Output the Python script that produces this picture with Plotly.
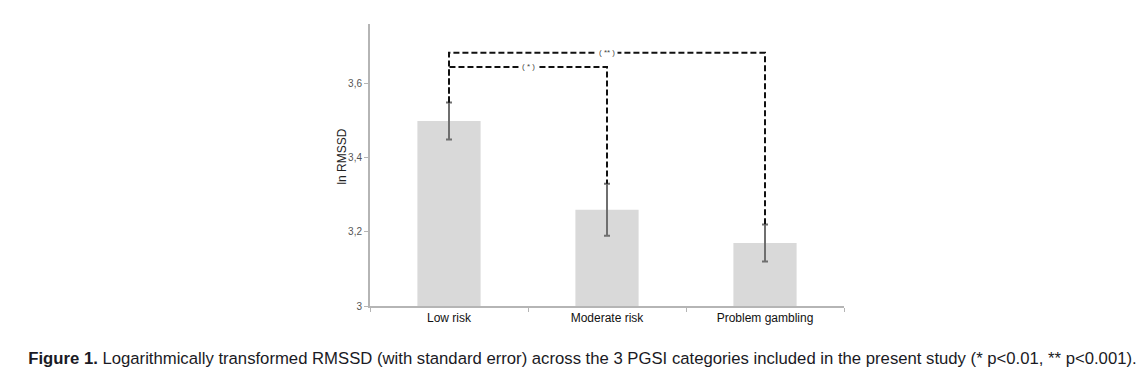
import plotly.graph_objects as go

categories = ["Low risk", "Moderate risk", "Problem gambling"]
ln_rmssd = [3.50, 3.26, 3.17]
std_err = [0.05, 0.07, 0.05]
y_tick_vals = [3.0, 3.2, 3.4, 3.6]
y_tick_text = ["3", "3,2", "3,4", "3,6"]
sig_labels = ["( * )", "( ** )"]

tops = [v + e for v, e in zip(ln_rmssd, std_err)]
inner_h = 3.646
outer_h = 3.684

fig = go.Figure()
fig.add_trace(go.Bar(
    x=categories, y=ln_rmssd,
    marker=dict(color="#d9d9d9", line=dict(width=0)),
    error_y=dict(type="data", array=std_err, visible=True,
                 color="#6f6f6f", thickness=2, width=3),
    width=0.4, showlegend=False, hoverinfo="skip",
))

dash_line = dict(color="#111111", width=2, dash="6px,3px")
# inner bracket: Low risk -> Moderate risk
fig.add_trace(go.Scatter(
    x=[categories[0], categories[0], categories[1], categories[1]],
    y=[tops[0], inner_h, inner_h, tops[1]],
    mode="lines", line=dash_line, showlegend=False, hoverinfo="skip"))
# outer bracket: Low risk -> Problem gambling
fig.add_trace(go.Scatter(
    x=[categories[0], categories[0], categories[2], categories[2]],
    y=[tops[0], outer_h, outer_h, tops[2]],
    mode="lines", line=dash_line, showlegend=False, hoverinfo="skip"))

fig.add_annotation(x=0.5, y=inner_h, xref="x", yref="y", text=sig_labels[0],
                   showarrow=False, bgcolor="white",
                   font=dict(size=8, color="#444444"), borderpad=2)
fig.add_annotation(x=1.0, y=outer_h, xref="x", yref="y", text=sig_labels[1],
                   showarrow=False, bgcolor="white",
                   font=dict(size=8, color="#444444"), borderpad=2)

# y-axis title
fig.add_annotation(x=-0.058, y=0.528, xref="paper", yref="paper",
                   xanchor="center", yanchor="middle",
                   text="ln RMSSD", textangle=-90, showarrow=False,
                   font=dict(size=12, color="#222222"))

fig.update_layout(
    width=1136, height=365,
    margin=dict(l=362, r=300, t=16, b=67, autoexpand=False),
    paper_bgcolor="white", plot_bgcolor="white",
    font=dict(family="Arial, Liberation Sans, sans-serif"),
    bargap=0.6,
    title=dict(
        text="<b>Figure 1.</b> Logarithmically transformed RMSSD (with standard error) across the 3 PGSI categories included in the present study (* p&lt;0.01, ** p&lt;0.001).",
        x=0.5057, xref="container", xanchor="center",
        y=0.041, yref="container", yanchor="middle",
        font=dict(size=16.7, color="#1a1a24"),
    ),
)
fig.update_xaxes(
    type="category", range=[-0.5, 2.5],
    showline=True, linecolor="#b5b5b5", linewidth=2,
    ticks="outside", tickson="boundaries", ticklen=4, tickcolor="#b5b5b5",
    tickfont=dict(size=12, color="#111111"), showgrid=False, zeroline=False,
)
fig.update_yaxes(
    range=[3.0, 3.762], tickvals=y_tick_vals, ticktext=y_tick_text,
    showline=True, linecolor="#b5b5b5", linewidth=2,
    ticks="outside", ticklen=4, tickcolor="#b5b5b5",
    tickfont=dict(size=10, color="#555555"), showgrid=False, zeroline=False,
)

fig.write_html("out.html")
